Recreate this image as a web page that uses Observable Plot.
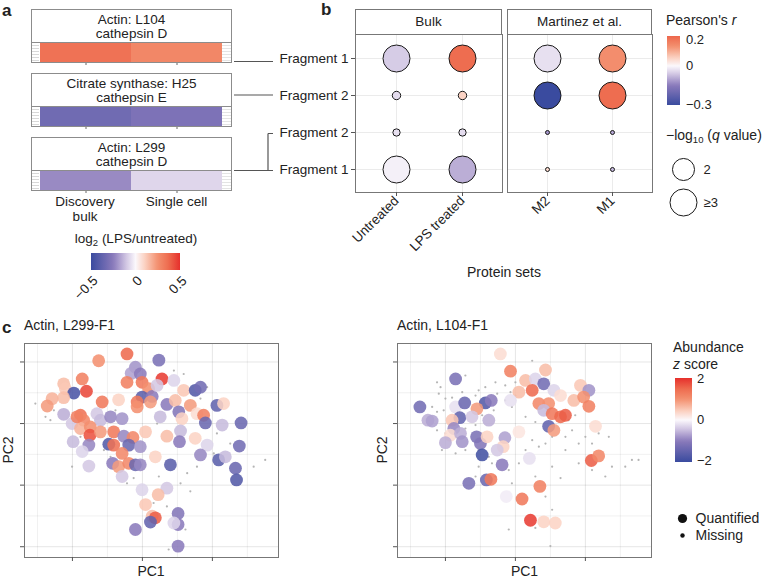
<!DOCTYPE html>
<html><head><meta charset="utf-8">
<script src="https://cdn.jsdelivr.net/npm/d3@7"></script>
<script src="https://cdn.jsdelivr.net/npm/@observablehq/plot@0.6"></script>
<style>
body{margin:0;background:#fff;}
#root{position:relative;width:762px;height:578px;overflow:hidden;font-family:'Liberation Sans',Arial,sans-serif;color:#222;}
#root svg{overflow:visible;}
</style></head>
<body><div id="root"></div>
<script>
// ---------- DATA ----------
// panel a
const aTitles = ["Actin: L104\ncathepsin D", "Citrate synthase: H25\ncathepsin E", "Actin: L299\ncathepsin D"];
const aConditions = ["Discovery bulk", "Single cell"];
const aDiscoveryBulk = [0.35, -0.33, -0.22];
const aSingleCell = [0.28, -0.29, -0.07];
const aLegendTicks = [-0.5, 0, 0.5];

// panel b
const bRowIds = ["L104 F1", "H25 F2", "L299 F2", "L299 F1"];
const bRowLabels = ["Fragment 1", "Fragment 2", "Fragment 2", "Fragment 1"];
const bulkSets = ["Untreated", "LPS treated"];
const martinezSets = ["M2", "M1"];
const rUntreated = [-0.055, -0.035, -0.03, -0.01];
const rLPS = [0.22, 0.06, -0.035, -0.09];
const rM2 = [-0.03, -0.3, -0.12, 0.05];
const rM1 = [0.155, 0.22, -0.1, -0.08];
const qUntreated = [3.5, 0.29, 0.22, 3.5];
const qLPS = [3.5, 0.29, 0.22, 3.5];
const qM2 = [3.5, 3.5, 0.066, 0.066];
const qM1 = [3.5, 3.5, 0.066, 0.066];
const sizeLegendValues = [2, 3];
const sizeLegendLabels = ["2", "≥3"];
const rLegendTicks = [0.2, 0, -0.3];

// panel c, left: Actin L299-F1
const lPC1 = [-0.44,-1.25,0.47,-0.2,-0.32,-0.06,0.56,-1.72,-2.25,-2.2,-1.96,-1.6,-2.25,-2.58,-2.72,-0.44,-0.01,0.18,0.9,1.18,1.51,1.66,-0.01,-0.15,0.28,-1.15,-0.68,0.23,0.7,0.94,1.37,1.04,2.13,2.32,-2.25,-1.77,-1.68,-1.3,-1.2,-0.91,-0.58,0.51,1.13,1.56,1.75,1.8,2.28,2.82,-2.01,-1.77,-1.49,-1.5,-1.2,-0.82,-0.53,-0.96,-0.82,-0.27,0.09,0.7,1.09,1.06,1.51,1.85,2.77,-1.98,-1.53,-1.72,-0.39,-0.06,-0.58,0.37,0.8,1.66,2.18,2.37,2.66,2.69,-1.53,-0.85,-0.68,-0.39,-0.2,-0.06,-0.58,-0.01,0.7,0.45,0.09,0.28,0.37,0.23,1.02,1.02,-0.2,1.02,0.9,-0.15,-1.87,0.42];
const lPC2 = [2.26,2.04,2.06,1.83,1.63,1.61,1.45,1.45,1.29,1.13,0.99,1.05,0.84,0.81,0.57,1.34,1.34,1.13,1.4,1.08,1.08,1.18,0.86,0.7,0.88,0.7,0.77,0.7,0.62,0.75,0.59,0.38,0.59,0.65,0.3,0.27,0.11,0.32,0.11,0.22,0.16,0.22,0.16,0.32,0.27,0.02,-0.05,0.02,0,-0.16,-0.11,-0.38,-0.27,-0.27,-0.41,-0.67,-0.7,-0.45,-0.27,-0.41,-0.24,-0.59,-0.48,-0.7,-0.73,-0.59,-0.7,-0.91,-0.7,-0.75,-0.97,-1.08,-1.34,-1.02,-1.18,-1.08,-1.45,-1.83,-1.38,-1.29,-1.4,-1.29,-1.34,-1.34,-1.72,-2.15,-2.1,-2.31,-2.63,-3.01,-3.06,-3.2,-2.92,-3.28,-3.44,-3.98,-3.23,0.54,0.22,1.24];
const lZ = [1.5,1.0,-1.2,-0.8,-0.7,-1.0,1.9,1.2,0.6,0.5,-1.8,1.8,0.6,0.7,0.9,1.2,1.3,1.0,-0.3,0.5,-1.7,-1.3,-1.6,1.3,-1.0,1.3,0.4,0.9,-1.0,0.6,0.9,-1.1,-1.5,0.4,-0.6,1.4,1.1,-0.4,-0.5,-0.9,-0.8,-0.5,0.4,0.3,1.2,-1.4,-0.5,-1.4,-0.4,0.7,1.0,1.7,0.9,1.3,-0.9,-1.7,1.4,1.1,0.5,0.6,-0.5,-1.0,0.4,-0.3,-1.3,-0.5,-0.9,-0.3,-1.4,-0.8,1.1,0.4,-1.6,-0.9,-1.6,-0.5,-1.4,-1.7,-0.4,-1.0,0.9,1.1,-1.4,-0.9,-0.4,-0.3,-0.4,0.6,0.5,0.6,1.6,-1.5,-1.1,-1.0,-1.0,-1.0,-0.3,1.0,1.2,-0.4];
const lMissPC1 = [-3.06,-2.77,-2.53,-2.63,-2.01,-1.77,-1.1,-0.91,-0.44,-0.25,0.47,1.09,1.28,1.56,2.04,2.51,3.18,3.51,0.9,1.18,1.85,1.66,2.13,1.37,0.32,0.7,1.23,0.75,-0.77,0.42];
const lMissPC2 = [0.65,0.22,0.43,0.11,-1.4,-0.43,-0.86,-1.08,-1.94,-1.77,-1.72,-1.94,-1.61,-1.4,-0.97,-0.65,-1.4,-1.18,1.72,1.61,1.18,0.81,-0.32,-2.2,-2.58,-2.69,-3.44,-4.09,0.43,0];

// panel c, right: Actin L104-F1
const rPC1 = [-0.43,-0.14,-1.71,0.29,0.57,0.81,0.86,0.48,0.1,-0.14,0.67,0.95,0.81,1.1,1.29,1.67,1.86,2.1,1.95,2.1,1.05,1.29,1.43,0.95,1.1,2.29,0.1,-2.73,-2.5,-2.38,-1.71,-1.45,-0.86,-0.69,-1.1,-1.59,-1.81,-1.24,-0.76,-1.76,-1.86,-1.57,-2.0,-1.52,-1.11,-1.0,-0.81,-0.3,-0.35,-0.95,-0.52,0.4,-0.38,-1.33,-0.83,-0.7,-0.26,0.19,0.7,0.43,0.81,1.14,2.17,2.38];
const rPC2 = [2.26,1.7,1.45,1.4,1.45,1.29,1.74,1.08,1.02,0.75,0.65,0.65,0.43,1.08,0.91,0.75,1.24,1.08,0.86,0.56,0.32,0.22,0.27,-0.09,-0.22,-0.09,-0.27,0.54,0.11,0.08,0.54,0.67,0.67,0.75,0.48,0.19,0.11,0.22,0.11,-0.16,-0.38,-0.32,-0.62,-0.59,-0.43,-0.65,-0.43,-0.46,-0.75,-1.02,-0.86,-1.13,-1.34,-1.94,-1.83,-1.81,-2.37,-2.45,-2.04,-3.14,-3.19,-3.23,-1.2,-1.05];
const rZ = [0.3,1.2,-1.2,0.6,-0.3,-1.3,0.6,1.5,0.6,-0.2,1.1,1.0,-0.5,-0.3,0.3,0.6,0.5,-0.8,1.0,1.2,1.3,1.5,1.6,-1.5,0.9,0.3,0.2,-1.3,-0.6,-0.7,-0.2,-1.4,-1.7,-1.0,0.9,-1.5,0.5,-0.4,-0.6,-0.9,0.3,-0.6,-0.6,-0.8,-1.2,-1.1,0.4,-0.7,0.4,-1.9,-0.4,-0.2,-1.0,-1.2,-1.4,1.3,-0.1,1.3,1.2,1.9,0.4,0.4,1.6,1.1];
const rMissPC1 = [-2.24,-2.14,-2.19,-2.0,-2.38,-2.24,-2.05,-1.81,-1.52,-1.14,-1.05,-0.57,-0.29,0,-0.14,-0.52,-0.29,-0.1,-0.62,-0.95,-1.14,-1.43,-1.71,-2.0,-2.24,-2.1,-1.71,-1.43,-1.05,-0.76,-0.67,-1.05,-1.14,-0.57,-0.19,0.1,0.29,0.48,0.67,0.86,1.05,1.43,1.62,1.81,2.0,2.19,2.67,2.76,2.57,3.33,3.52,3.14,1.52,1.71,0.57,0.29,0.48,0,-0.86,-1.43,1.29,0.86,1.05,1.0,-0.19,0.57,1.43,1.81,2.19,2.38,0.57,1.05,-0.1];
const rMissPC2 = [1.34,1.18,0.97,0.81,0.54,0.38,0.43,0.84,1.02,0.91,1.08,1.34,1.24,1.34,1.02,0.97,0.75,0.54,0.43,0.27,-0.05,-0.16,-0.43,-0.32,-0.22,-0.86,-0.97,-0.86,-0.86,-1.08,-1.29,-1.4,-1.72,-1.72,-1.51,-1.29,-0.86,-0.54,-0.75,-0.65,-0.43,-0.43,-0.22,-0.65,-0.43,-0.65,-0.43,-1.4,-1.72,-1.18,-1.18,-1.4,0.11,0.27,0.05,0.22,2.04,0.91,1.18,1.56,-1.77,-2.37,-2.8,-3.98,-3.44,-3.39,-0.86,-1.29,-1.51,-0.32,-1.72,-1.4,-1.94];
const zLegendTicks = [2, 0, -2];
const shapeLegend = ["Quantified", "Missing"];

// ---------- helpers ----------
const FONT = "'Liberation Sans', Arial, sans-serif";
const INK = "#222";
const root = document.getElementById("root");
const divStops = [-1, -0.5, -0.2, 0, 0.2, 0.5, 0.75, 1];
const divColors = ["#3a4b9f", "#8a7abb", "#d3c8e4", "#fbf8fc", "#fbd3c4", "#f3906f", "#ee6a4e", "#e6302c"];
const plotColor = lim => ({type: "linear", domain: divStops.map(t => t * lim), range: divColors, interpolate: "rgb", clamp: true});
const d3Color = lim => d3.scaleLinear().domain(divStops.map(t => t * lim)).range(divColors).interpolate(d3.interpolateRgb).clamp(true);
const baseStyle = {fontFamily: FONT, fontSize: "13.5px", color: INK, background: "transparent", overflow: "visible"};

function put(node, x, y) {
  node.style.position = "absolute";
  node.style.left = x + "px";
  node.style.top = y + "px";
  root.appendChild(node);
  return node;
}
function text(html, x, y, o = {}) {
  const d = document.createElement("div");
  d.innerHTML = html;
  const tx = o.anchor === "middle" ? "-50%" : o.anchor === "end" ? "-100%" : "0";
  d.style.cssText = `position:absolute;left:${x}px;top:${y}px;font-size:${o.size ?? 13.5}px;line-height:${o.lh ?? 1.05};white-space:nowrap;font-weight:${o.weight ?? 400};color:${INK};text-align:${o.align ?? "left"};transform:translate(${tx},-50%)${o.rotate ? ` rotate(${o.rotate}deg)` : ""};`;
  root.appendChild(d);
  return d;
}
function box(x, y, w, h, css = "") {
  const d = document.createElement("div");
  d.style.cssText = `position:absolute;left:${x}px;top:${y}px;width:${w}px;height:${h}px;box-sizing:border-box;${css}`;
  root.appendChild(d);
  return d;
}
function gradient(dir, from, to, scale, n = 30) {
  const stops = d3.range(n + 1).map(i => `${scale(from + (to - from) * i / n)} ${(100 * i / n).toFixed(2)}%`);
  return `linear-gradient(${dir}, ${stops.join(",")})`;
}
const minus = v => (v < 0 ? "−" : "") + Math.abs(v);

// ---------- panel letters ----------
text("a", 2, 11, {size: 17, weight: 700});
text("b", 321, 10, {size: 17, weight: 700});
text("c", 2, 328, {size: 17, weight: 700});

// ---------- panel a ----------
const aTops = [9, 73, 137];
const aColor = plotColor(0.5);
aTitles.forEach((title, i) => {
  const top = aTops[i];
  const strip = Plot.plot({
    width: 201, height: 23, marginLeft: 8, marginRight: 10, marginTop: 0, marginBottom: 4,
    style: baseStyle,
    x: {type: "band", domain: aConditions, padding: 0, label: null},
    color: aColor,
    marks: [
      Plot.cell(aConditions.map((c, j) => ({cond: c, v: j === 0 ? aDiscoveryBulk[i] : aSingleCell[i]})), {x: "cond", fill: "v", inset: 0}),
      Plot.axisX({tickSize: 3, tickFormat: () => "", label: null, stroke: "#666"})
    ]
  });
  box(32, top + 34, 7, 19, "background:repeating-linear-gradient(to bottom,#fff 0 2px,#d8d8d8 2px 3px);");
  box(222, top + 34, 9, 19, "background:repeating-linear-gradient(to bottom,#fff 0 2px,#e4e4e4 2px 3px);");
  put(strip, 31, top + 34);
  box(31, top, 201, 54, "border:1px solid #8c8c8c;");
  box(31, top, 201, 34, "border-bottom:1px solid #8c8c8c;");
  const lines = title.split("\n");
  text(lines[0], 131.5, top + 11, {anchor: "middle"});
  text(lines[1], 131.5, top + 24.5, {anchor: "middle"});
});
text("Discovery", 85, 202, {anchor: "middle"});
text("bulk", 85, 217, {anchor: "middle"});
text("Single cell", 176.5, 202, {anchor: "middle"});

// legend a
text("log<sub style='font-size:9.5px;vertical-align:-3px'>2</sub> (LPS/untreated)", 136, 240, {anchor: "middle", size: 13.5});
box(91, 253, 89, 17, "background:" + gradient("to right", -0.5, 0.5, d3Color(0.5)) + ";");
put(Plot.plot({
  width: 140, height: 1, marginLeft: 30, marginRight: 21, marginTop: 0, marginBottom: 0,
  style: baseStyle,
  x: {domain: [-0.5, 0.5], label: null},
  marks: [Plot.axisX({ticks: aLegendTicks, tickSize: 0, tickPadding: 8, tickRotate: -45, fontSize: 13.5, label: null, dx: 4, tickFormat: minus})]
}), 61, 269);

// connectors
const conn = d3.create("svg").attr("width", 762).attr("height", 578)
  .style("position", "absolute").style("left", "0px").style("top", "0px").style("pointer-events", "none");
conn.append("path").attr("fill", "none").attr("stroke", "#555").attr("stroke-width", 1.2)
  .attr("d", "M234,61.5H273 M234,95H273 M268,133.5H273 M268,133.5V170.5 M234,170.5H273");
root.appendChild(conn.node());

// ---------- panel b ----------
const bColor = plotColor(0.3);
const rScale = {type: "sqrt", domain: [0, 3], range: [0, 13.5], clamp: true};
const bulkData = bRowIds.flatMap((row, i) => [
  {set: "Untreated", row, r: rUntreated[i], q: qUntreated[i]},
  {set: "LPS treated", row, r: rLPS[i], q: qLPS[i]}
]);
const martData = bRowIds.flatMap((row, i) => [
  {set: "M2", row, r: rM2[i], q: qM2[i]},
  {set: "M1", row, r: rM1[i], q: qM1[i]}
]);
function bPlot(data, sets, withY, ml, mr, w) {
  return Plot.plot({
    width: w, height: 243, marginLeft: ml, marginRight: mr, marginTop: 25, marginBottom: 60,
    style: baseStyle,
    x: {type: "point", domain: sets, padding: 0.6, label: null},
    y: {type: "point", domain: bRowIds, padding: 0.6, label: null, axis: null},
    r: rScale,
    color: bColor,
    marks: [
      Plot.gridX({stroke: "#000", strokeOpacity: 0.08}),
      Plot.gridY({stroke: "#000", strokeOpacity: 0.08}),
      Plot.frame({stroke: "#777"}),
      withY ? Plot.axisY({tickSize: 4, tickPadding: 3, fontSize: 13.5, stroke: "#555", tickFormat: d => bRowLabels[bRowIds.indexOf(d)], label: null}) : null,
      Plot.axisX({tickSize: 4, tickPadding: 2, tickRotate: -45, fontSize: 13.5, stroke: "#555", label: null}),
      Plot.dot(data, {x: "set", y: "row", r: "q", fill: "r", stroke: "#1a1a1a", strokeWidth: 1})
    ]
  });
}
put(bPlot(bulkData, bulkSets, true, 93, 0, 240), 262, 9);
put(bPlot(martData, martinezSets, false, 5, 5, 155), 502, 9);
box(355, 9, 147, 26, "border:1px solid #777;background:#fff;");
box(507, 9, 145, 26, "border:1px solid #777;background:#fff;");
text("Bulk", 428.5, 22, {anchor: "middle"});
text("Martinez et al.", 579.5, 22, {anchor: "middle"});
text("Protein sets", 504, 272, {anchor: "middle", size: 14});

// legend b: Pearson's r
text("Pearson's <i>r</i>", 666, 20, {size: 14});
box(667, 36, 13, 69, "background:" + gradient("to bottom", 0.23, -0.3, d3Color(0.3)) + ";");
const rPos = d3.scaleLinear().domain([0.23, -0.3]).range([36, 105]);
rLegendTicks.forEach(v => text(minus(v), 686, rPos(v), {size: 13}));
text("−log<sub style='font-size:9.5px;vertical-align:-3px'>10</sub> (<i>q</i> value)", 666, 136, {size: 14});
put(Plot.plot({
  width: 80, height: 70, margin: 0,
  style: baseStyle,
  x: {domain: [0, 1], axis: null},
  y: {type: "point", domain: sizeLegendLabels, range: [19, 52], padding: 0, axis: null},
  r: rScale,
  marks: [
    Plot.dot(sizeLegendValues, {frameAnchor: "left", dx: 23, y: (d, i) => sizeLegendLabels[i], r: d => d, fill: "white", stroke: "#1a1a1a", strokeWidth: 1}),
    Plot.text(sizeLegendLabels, {frameAnchor: "left", dx: 43, y: d => d, text: d => d, textAnchor: "start", fontSize: 13})
  ]
}), 660, 150);

// ---------- panel c ----------
const cColor = plotColor(2);
function scatter(pc1, pc2, z, m1, m2) {
  const quant = pc1.map((x, i) => ({x, y: pc2[i], z: z[i]}));
  const miss = m1.map((x, i) => ({x, y: m2[i]}));
  return Plot.plot({
    width: 282, height: 248, marginLeft: 24, marginRight: 4, marginTop: 13, marginBottom: 21,
    style: baseStyle,
    x: {domain: [-3.37, 3.89], label: null},
    y: {domain: [-4.35, 2.6], label: null},
    color: cColor,
    marks: [
      Plot.gridX({ticks: [-3, -1, 1, 3], stroke: "#000", strokeOpacity: 0.06}),
      Plot.gridY({ticks: [-3, -1, 1], stroke: "#000", strokeOpacity: 0.06}),
      Plot.gridX({ticks: [-2, 0, 2], stroke: "#000", strokeOpacity: 0.1}),
      Plot.gridY({ticks: [-4, -2, 0, 2], stroke: "#000", strokeOpacity: 0.1}),
      Plot.frame({stroke: "#777"}),
      Plot.axisX({ticks: [-2, 0, 2], tickSize: 4, tickFormat: () => "", label: null, stroke: "#555"}),
      Plot.axisY({ticks: [-4, -2, 0, 2], tickSize: 4, tickFormat: () => "", label: null, stroke: "#555"}),
      Plot.dot(miss, {x: "x", y: "y", r: 1.1, fill: "#b5b5b5", stroke: null}),
      Plot.dot(quant, {x: "x", y: "y", r: 6.4, fill: "z", fillOpacity: 0.87, stroke: null})
    ]
  });
}
put(scatter(lPC1, lPC2, lZ, lMissPC1, lMissPC2), 0, 330);
put(scatter(rPC1, rPC2, rZ, rMissPC1, rMissPC2), 373, 330);
text("Actin, L299-F1", 24, 325, {size: 14});
text("Actin, L104-F1", 397, 325, {size: 14});
text("PC1", 151, 571, {anchor: "middle", size: 14});
text("PC1", 524.5, 571, {anchor: "middle", size: 14});
text("PC2", 8, 450, {anchor: "middle", size: 14, rotate: -90});
text("PC2", 382, 450, {anchor: "middle", size: 14, rotate: -90});

// legend c
text("Abundance", 673, 347, {size: 14});
text("<i>z</i> score", 673, 364, {size: 14});
box(675, 378, 17, 84, "background:" + gradient("to bottom", 2, -2, d3Color(2)) + ";");
const zPos = d3.scaleLinear().domain([2, -2]).range([379, 461]);
zLegendTicks.forEach(v => text(minus(v), 697, zPos(v), {size: 13}));
put(Plot.plot({
  width: 90, height: 45, margin: 0,
  style: baseStyle,
  x: {domain: [0, 1], axis: null},
  y: {type: "point", domain: shapeLegend, range: [13, 30], padding: 0, axis: null},
  marks: [
    Plot.dot(shapeLegend, {frameAnchor: "left", dx: 12, y: d => d, r: d => d === "Quantified" ? 6.5 : 1.5, fill: "#111", stroke: null}),
    Plot.text(shapeLegend, {frameAnchor: "left", dx: 25, y: d => d, text: d => d, textAnchor: "start", fontSize: 14})
  ]
}), 670, 505);
</script>
</body></html>
